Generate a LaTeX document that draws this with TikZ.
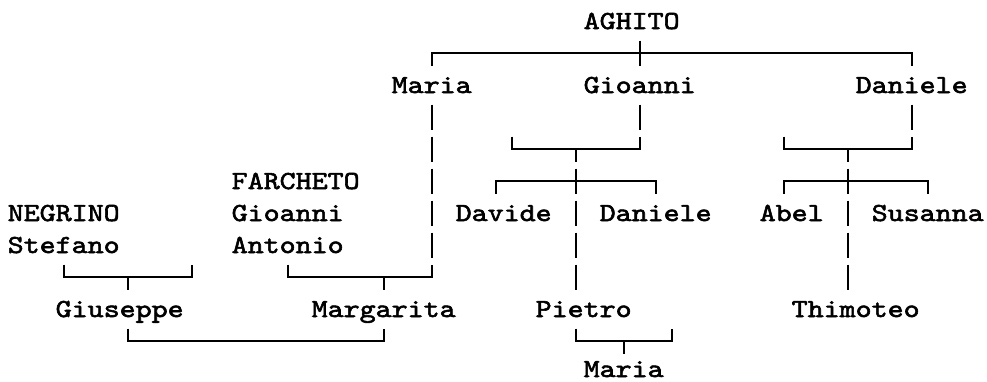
\documentclass[tikz,border=0pt]{standalone}
\usepackage{fontspec}
\newfontfamily\treefont{lmmono10-regular}[Extension=.otf, FakeStretch=1.172, FakeBold=2.2]
\newcommand\CX[1]{15.7+16*#1}
\newcommand\RM[1]{21+32*#1}
\newcommand\RT[1]{8.5+32*#1}
\newcommand\RB[1]{33.5+32*#1}
% vertical pieces in column c, row k
\newcommand\Vfull[2]{\draw[ln] ({\CX{#1}},{\RT{#2}}) -- ({\CX{#1}},{\RB{#2}});}
\newcommand\Vtop[2]{\draw[ln] ({\CX{#1}},{\RT{#2}}) -- ({\CX{#1}},{\RM{#2}});}
\newcommand\Vbot[2]{\draw[ln] ({\CX{#1}},{\RM{#2}}) -- ({\CX{#1}},{\RB{#2}});}
% brackets from column a to column b in row k
\newcommand\Bup[3]{\draw[ln] ({\CX{#1}},{\RT{#3}}) -- ({\CX{#1}},{\RM{#3}}) -- ({\CX{#2}},{\RM{#3}}) -- ({\CX{#2}},{\RT{#3}});}
\newcommand\Bdown[3]{\draw[ln] ({\CX{#1}},{\RB{#3}}) -- ({\CX{#1}},{\RM{#3}}) -- ({\CX{#2}},{\RM{#3}}) -- ({\CX{#2}},{\RB{#3}});}
\tikzset{
  ln/.style={line width=1.8pt, black},
  nm/.style={anchor=base west, inner sep=0pt, outer sep=0pt, font=\treefont\fontsize{26pt}{32pt}\selectfont}
}
\begin{document}
\begin{tikzpicture}[x=1pt,y=-1pt]
\useasboundingbox (0,0) rectangle (987,381);
% names: column c, row k  -> x = 7.7+16c, baseline = 29+32k
\node[nm] (aghito)  at ({7.7+16*36},{29+32*0}) {AGHITO};
\node[nm] (maria1)  at ({7.7+16*24},{29+32*2}) {Maria};
\node[nm] (gioa1)   at ({7.7+16*36},{29+32*2}) {Gioanni};
\node[nm] (dan1)    at ({7.7+16*53},{29+32*2}) {Daniele};
\node[nm] (farch)   at ({7.7+16*14},{29+32*5}) {FARCHETO};
\node[nm] (negr)    at ({7.7+16*0},{29+32*6}) {NEGRINO};
\node[nm] (gioa2)   at ({7.7+16*14},{29+32*6}) {Gioanni};
\node[nm] (davide)  at ({7.7+16*28},{29+32*6}) {Davide};
\node[nm] (dan2)    at ({7.7+16*37},{29+32*6}) {Daniele};
\node[nm] (abel)    at ({7.7+16*47},{29+32*6}) {Abel};
\node[nm] (susanna) at ({7.7+16*54},{29+32*6}) {Susanna};
\node[nm] (stef)    at ({7.7+16*0},{29+32*7}) {Stefano};
\node[nm] (anton)   at ({7.7+16*14},{29+32*7}) {Antonio};
\node[nm] (gius)    at ({7.7+16*3},{29+32*9}) {Giuseppe};
\node[nm] (marg)    at ({7.7+16*19},{29+32*9}) {Margarita};
\node[nm] (pietro)  at ({7.7+16*33},{29+32*9}) {Pietro};
\node[nm] (thim)    at ({7.7+16*49},{29+32*9}) {Thimoteo};
\node[nm] (maria2)  at ({7.7+16*36},{377}) {Maria};
% row 1
\Bdown{26}{56}{1} \Vfull{39}{1}
% row 3
\Vfull{26}{3} \Vfull{39}{3} \Vfull{56}{3}
% row 4
\Vfull{26}{4}
\Bup{31}{39}{4} \Vbot{35}{4}
\Bup{48}{56}{4} \Vbot{52}{4}
% row 5
\Vfull{26}{5}
\Bdown{30}{40}{5} \Vfull{35}{5}
\Bdown{48}{57}{5} \Vfull{52}{5}
% rows 6-7
\foreach \k in {6,7}{\Vfull{26}{\k} \Vfull{35}{\k} \Vfull{52}{\k}}
% row 8
\Bup{3}{11}{8} \Vbot{7}{8}
\Bup{17}{26}{8} \Vbot{23}{8}
\Vfull{35}{8} \Vfull{52}{8}
% row 10
\Bup{7}{23}{10}
\Bup{35}{41}{10} \Vbot{38}{10}
\end{tikzpicture}
\end{document}
